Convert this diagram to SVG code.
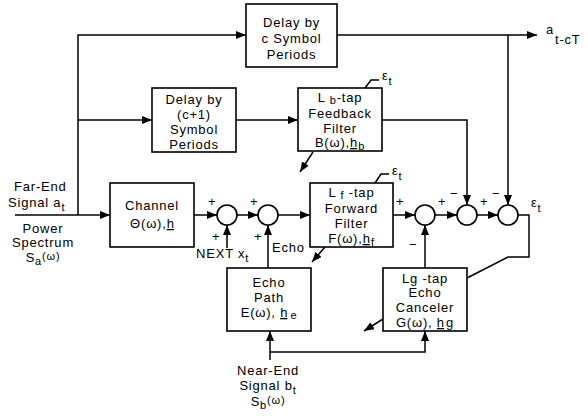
<svg xmlns="http://www.w3.org/2000/svg" width="588" height="416" viewBox="0 0 588 416">
<defs>
<marker id="ah" viewBox="0 0 10 8" refX="10" refY="4" markerWidth="10" markerHeight="8" orient="auto" markerUnits="userSpaceOnUse"><path d="M0,0 L10,4 L0,8 z" fill="#000"/></marker>
</defs>
<style>
.box{fill:#fff;stroke:#000;stroke-width:1.6}
.sum{fill:#fff;stroke:#000;stroke-width:1.6}
.w{fill:none;stroke:#000;stroke-width:1.5}
.a{fill:none;stroke:#000;stroke-width:1.5;marker-end:url(#ah)}
text{font-family:"Liberation Sans",Arial,sans-serif;font-size:13px;fill:#000;letter-spacing:0.8px}
.c{text-anchor:middle}
.s{font-size:11px}
.u{text-decoration:underline;letter-spacing:0}
</style>
<rect width="588" height="416" fill="#fff"/>
<g id="connectors">
<path class="a" d="M78,215 V35 H246"/>
<path class="a" d="M78,120 H152"/>
<path class="a" d="M15,215 H110"/>
<path class="a" d="M337,35 H537"/>
<path class="a" d="M508,35 V205"/>
<path class="a" d="M236,120 H298"/>
<path class="a" d="M382,120 H467 V205"/>
<path class="a" d="M194,215 H217"/>
<path class="a" d="M237,215 H258"/>
<path class="a" d="M278,215 H310"/>
<path class="a" d="M393,215 H415"/>
<path class="a" d="M435,215 H457"/>
<path class="a" d="M477,215 H498"/>
<path class="a" d="M227,248 V225"/>
<path class="a" d="M268,268 V225"/>
<path class="w" d="M518,215 H529 V257 H508 L467,278"/>
<path class="a" d="M425,268 V225"/>
<path class="a" d="M270,360 V331"/>
<path class="a" d="M270,352 H425 V331"/>
<path class="a" d="M313,152 L300,172"/>
<path class="a" d="M325,247 L312,262"/>
<path class="a" d="M383,319 L364,331"/>
<path class="w" d="M365,88 L371,80 H379"/>
<path class="w" d="M375,183 L381,174 H389"/>
</g>
<g id="delay-c">
<rect class="box" x="246" y="4" width="91" height="63"/>
<text class="c" x="291.5" y="27">Delay by</text>
<text class="c" x="291.5" y="43">c Symbol</text>
<text class="c" x="291.5" y="59">Periods</text>
</g>
<g id="delay-c1">
<rect class="box" x="152" y="88" width="84" height="64"/>
<text class="c" x="194" y="104">Delay by</text>
<text class="c" x="194" y="119">(c+1)</text>
<text class="c" x="194" y="134">Symbol</text>
<text class="c" x="194" y="149">Periods</text>
</g>
<g id="feedback">
<rect class="box" x="298" y="88" width="84" height="63"/>
<text class="c" x="340" y="102">L <tspan class="s" dy="2">b</tspan><tspan dy="-2">-tap</tspan></text>
<text class="c" x="340" y="118">Feedback</text>
<text class="c" x="340" y="133">Filter</text>
<text class="c" x="340" y="147">B(ω),<tspan class="u">h</tspan><tspan class="s" dx="1" dy="3">b</tspan></text>
<text x="382" y="80">ε<tspan class="s" dy="5">t</tspan></text>
</g>
<g id="channel">
<rect class="box" x="110" y="183" width="84" height="64"/>
<text class="c" x="152" y="210">Channel</text>
<text class="c" x="152" y="228">Θ(ω),<tspan class="u">h</tspan></text>
</g>
<g id="sum1"><circle class="sum" cx="227" cy="215" r="10"/>
<text x="208" y="206">+</text><text x="212" y="241">+</text></g>
<g id="sum2"><circle class="sum" cx="268" cy="215" r="10"/>
<text x="250" y="206">+</text><text x="254" y="241">+</text></g>
<g id="forward">
<rect class="box" x="310" y="183" width="83" height="64"/>
<text class="c" x="351.5" y="197">L <tspan class="s" dy="2">f</tspan><tspan dy="-2"> -tap</tspan></text>
<text class="c" x="351.5" y="213">Forward</text>
<text class="c" x="351.5" y="228">Filter</text>
<text class="c" x="351.5" y="243">F(ω),<tspan class="u">h</tspan><tspan class="s" dx="1" dy="3">f</tspan></text>
<text x="392" y="175">ε<tspan class="s" dy="5">t</tspan></text>
</g>
<g id="sum3"><circle class="sum" cx="425" cy="215" r="10"/>
<text x="396" y="206">+</text><text x="409" y="249">−</text></g>
<g id="sum4"><circle class="sum" cx="467" cy="215" r="10"/>
<text x="438" y="206">+</text><text x="450" y="198">−</text></g>
<g id="sum5"><circle class="sum" cx="508" cy="215" r="10"/>
<text x="480" y="206">+</text><text x="492" y="198">−</text>
<text x="531" y="207">ε<tspan class="s" dy="5">t</tspan></text></g>
<g id="echo-path">
<rect class="box" x="227" y="268" width="84" height="63"/>
<text class="c" x="269" y="287">Echo</text>
<text class="c" x="269" y="302">Path</text>
<text class="c" x="269" y="317">E(ω), <tspan class="u">h</tspan><tspan class="s" dx="3" dy="2">e</tspan></text>
</g>
<g id="canceler">
<rect class="box" x="383" y="268" width="84" height="63"/>
<text class="c" x="425" y="283">Lg -tap</text>
<text class="c" x="425" y="297">Echo</text>
<text class="c" x="425" y="312">Canceler</text>
<text class="c" x="425" y="327">G(ω), <tspan class="u">h</tspan><tspan dx="2">g</tspan></text>
</g>
<g id="labels">
<text x="14" y="191">Far-End</text>
<text x="8" y="207">Signal  a<tspan class="s" dy="4">t</tspan></text>
<text class="c" x="43" y="233">Power</text>
<text class="c" x="43" y="247">Spectrum</text>
<text class="c" x="43" y="262">S<tspan class="s" dy="3">a</tspan><tspan class="s" dy="-5">(ω)</tspan></text>
<text x="196" y="258">NEXT x<tspan class="s" dy="4">t</tspan></text>
<text x="272" y="252">Echo</text>
<text x="546" y="34">a<tspan dx="1" dy="10">t-cT</tspan></text>
<text class="c" x="268" y="375">Near-End</text>
<text class="c" x="268" y="390">Signal  b<tspan class="s" dy="4">t</tspan></text>
<text class="c" x="268" y="406">S<tspan class="s" dy="3">b</tspan><tspan class="s" dy="-5">(ω)</tspan></text>
</g>
</svg>
